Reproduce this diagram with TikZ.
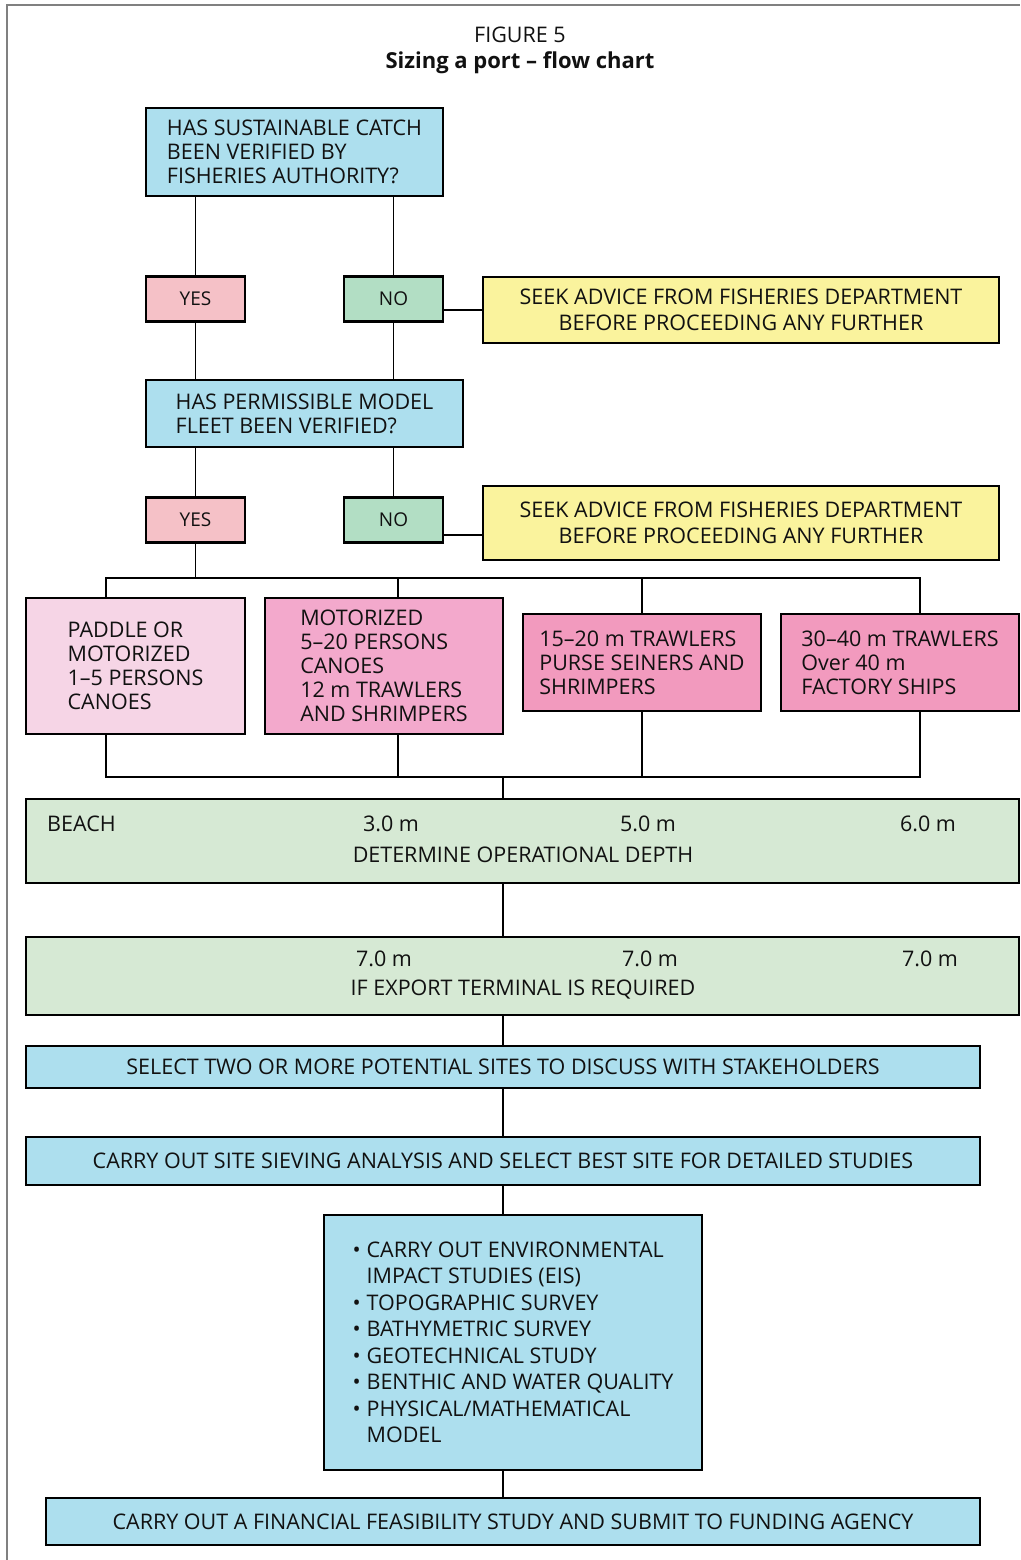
\documentclass[tikz,border=0pt]{standalone}
\usepackage{fontspec}
\setmainfont{Open Sans}
\usetikzlibrary{calc}

\definecolor{askblue}{HTML}{ADDFEE}
\definecolor{advyellow}{HTML}{FAF39D}
\definecolor{yespink}{HTML}{F5C1C7}
\definecolor{nogreen}{HTML}{B2DEC4}
\definecolor{boatlight}{HTML}{F6D5E6}
\definecolor{boatmid}{HTML}{F3A9CC}
\definecolor{boatdark}{HTML}{F29ABE}
\definecolor{depthgreen}{HTML}{D6E9D4}
\definecolor{inkgray}{HTML}{111111}

\newcommand{\ptbul}{\makebox[14pt][l]{\textbullet}}
\newcommand{\ptind}{\hspace*{14pt}}

\tikzset{
  boxbase/.style={draw=black, line width=2.2pt, inner sep=0pt, text=inkgray,
    font=\fontsize{21.5}{24}\selectfont},
  askbox/.style={boxbase, fill=askblue},
  answer/.style={boxbase, minimum width=99, minimum height=45,
    font=\fontsize{19}{22}\selectfont},
  advice/.style={boxbase, fill=advyellow, minimum width=516, align=center,
    font=\fontsize{21.5}{26}\selectfont},
  fleet/.style={boxbase, align=left},
  depth/.style={boxbase, fill=depthgreen, minimum width=993},
  lbl/.style={text=inkgray, inner sep=0pt, font=\fontsize{21.5}{24}\selectfont},
  link/.style={line width=1.3pt}
}

\begin{document}
\begin{tikzpicture}[x=1pt, y=-1pt]
\useasboundingbox (0,0) rectangle (1020,1560);
\draw[gray, line width=1.2pt] (7,1560) -- (7,5) -- (1020,5);

% title
\node[lbl] (fig) at (520,35) {FIGURE 5};
\node[lbl, font=\bfseries\fontsize{22}{24}\selectfont] (figtitle) at (520,63) {Sizing a port -- flow chart};

% questions and answers
\node[askbox, minimum width=297, minimum height=88, align=left] (catch) at (294.5,152) {HAS SUSTAINABLE CATCH\\BEEN VERIFIED BY\\FISHERIES AUTHORITY?};
\node[answer, fill=yespink] (yesA) at (195.5,299) {YES};
\node[answer, fill=nogreen] (noA) at (393.5,299) {NO};
\node[advice, minimum height=66] (seekA) at (741,310) {SEEK ADVICE FROM FISHERIES DEPARTMENT\\BEFORE PROCEEDING ANY FURTHER};

\node[askbox, minimum width=317, minimum height=67, align=left] (model) at (304.5,413.5) {HAS PERMISSIBLE MODEL\\FLEET BEEN VERIFIED?};
\node[answer, fill=yespink] (yesB) at (195.5,520) {YES};
\node[answer, fill=nogreen] (noB) at (393.5,520) {NO};
\node[advice, minimum height=74] (seekB) at (741,523) {SEEK ADVICE FROM FISHERIES DEPARTMENT\\BEFORE PROCEEDING ANY FURTHER};

\draw[link] (catch.south -| yesA) -- (yesA);
\draw[link] (catch.south -| noA) -- (noA);
\draw[link] (noA.east |- seekA.west) -- (seekA.west);
\draw[link] (yesA) -- (yesA |- model.north);
\draw[link] (noA) -- (noA |- model.north);
\draw[link] (model.south -| yesB) -- (yesB);
\draw[link] (model.south -| noB) -- (noB);
\draw[link] ([yshift=-15pt]noB.east) -- ([yshift=-15pt]noB.east -| seekB.west);

% fleet types
\node[fleet, fill=boatlight, minimum width=219, minimum height=136] (boatA) at (135.5,666) {PADDLE OR\\MOTORIZED\\1--5 PERSONS\\CANOES};
\node[fleet, fill=boatmid, minimum width=238, minimum height=136] (boatB) at (384,666) {MOTORIZED\\5--20 PERSONS\\CANOES\\12 m TRAWLERS\\AND SHRIMPERS};
\node[fleet, fill=boatdark, minimum width=238, minimum height=97] (boatC) at (642,662.5) {15--20 m TRAWLERS\\PURSE SEINERS AND\\SHRIMPERS};
\node[fleet, fill=boatdark, minimum width=238, minimum height=97] (boatD) at (900,662.5) {30--40 m TRAWLERS\\Over 40 m\\FACTORY SHIPS};

\coordinate (topA) at (106,578);
\coordinate (topB) at (398,578);
\coordinate (topC) at (642,578);
\coordinate (topD) at (920,578);
\coordinate (botA) at (106,777);
\coordinate (botB) at (398,777);
\coordinate (botC) at (642,777);
\coordinate (botD) at (920,777);

\draw[link] (yesB) -- (yesB |- topA);
\draw[link] (topA |- boatA.north) -- (topA) -- (topD) -- (topD |- boatD.north);
\draw[link] (topB) -- (topB |- boatB.north);
\draw[link] (topC) -- (topC |- boatC.north);
\draw[link] (botA |- boatA.south) -- (botA) -- (botD) -- (botD |- boatD.south);
\draw[link] (botB) -- (botB |- boatB.south);
\draw[link] (botC) -- (botC |- boatC.south);

% depths
\node[depth, minimum height=84] (opdepth) at (522.5,841) {};
\node[lbl, anchor=west] (dBeach) at (47,824) {BEACH};
\node[lbl] (dThree) at (391,824) {3.0 m};
\node[lbl] (dFive) at (648,824) {5.0 m};
\node[lbl] (dSix) at (928,824) {6.0 m};
\node[lbl] (dTitle) at (523,855) {DETERMINE OPERATIONAL DEPTH};

\node[depth, minimum height=78] (export) at (522.5,976) {};
\node[lbl] (eOne) at (384,959) {7.0 m};
\node[lbl] (eTwo) at (650,959) {7.0 m};
\node[lbl] (eThree) at (930,959) {7.0 m};
\node[lbl] (eTitle) at (523,990) {IF EXPORT TERMINAL IS REQUIRED};

\coordinate (joinBot) at (503,777);
\draw[link] (joinBot) -- (joinBot |- opdepth.north);
\draw[link] (joinBot |- opdepth.south) -- (joinBot |- export.north);

% sites and studies
\node[askbox, minimum width=954, minimum height=42, align=center] (sites) at (503,1067) {SELECT TWO OR MORE POTENTIAL SITES TO DISCUSS WITH STAKEHOLDERS};
\node[askbox, minimum width=954, minimum height=48, align=center] (sieve) at (503,1161) {CARRY OUT SITE SIEVING ANALYSIS AND SELECT BEST SITE FOR DETAILED STUDIES};
\node[askbox, minimum width=378, minimum height=255, align=left,
  font=\fontsize{21.5}{26.5}\selectfont] (studies) at (513,1342.5)
  {\ptbul CARRY OUT ENVIRONMENTAL\\\ptind IMPACT STUDIES (EIS)\\\ptbul TOPOGRAPHIC SURVEY\\\ptbul BATHYMETRIC SURVEY\\\ptbul GEOTECHNICAL STUDY\\\ptbul BENTHIC AND WATER QUALITY\\\ptbul PHYSICAL/MATHEMATICAL\\\ptind MODEL};
\node[askbox, minimum width=934, minimum height=47, align=center] (funding) at (513,1521.5) {CARRY OUT A FINANCIAL FEASIBILITY STUDY AND SUBMIT TO FUNDING AGENCY};

\draw[link] (joinBot |- export.south) -- (joinBot |- sites.north);
\draw[link] (joinBot |- sites.south) -- (joinBot |- sieve.north);
\draw[link] (joinBot |- sieve.south) -- (joinBot |- studies.north);
\draw[link] (joinBot |- studies.south) -- (joinBot |- funding.north);
\end{tikzpicture}
\end{document}
